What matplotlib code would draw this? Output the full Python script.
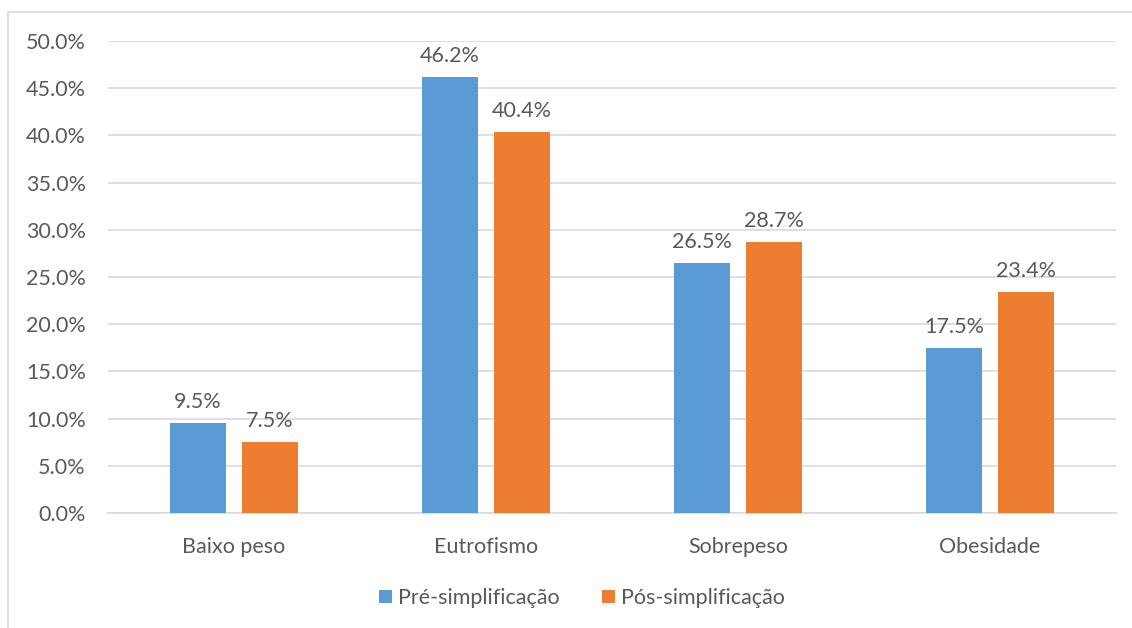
import matplotlib.pyplot as plt
import numpy as np
from matplotlib.patches import Rectangle
from matplotlib.ticker import FuncFormatter

categories = ['Baixo peso', 'Eutrofismo', 'Sobrepeso', 'Obesidade']
pre = [9.5, 46.2, 26.5, 17.5]
pos = [7.5, 40.4, 28.7, 23.4]
series_names = ['Pré-simplificação', 'Pós-simplificação']

plt.rcParams['font.family'] = ['Lato', 'DejaVu Sans']
txt = '#595959'
fs = 15.5

fig = plt.figure(figsize=(11.32, 6.28), dpi=100)
ax = fig.add_axes([108/1132, 1-513/628, 1008/1132, 472/628])

x = np.arange(len(categories))
w = 0.222
off = 0.143
b1 = ax.bar(x - off, pre, w, color='#5B9BD5', label=series_names[0], zorder=3)
b2 = ax.bar(x + off, pos, w, color='#ED7D31', label=series_names[1], zorder=3)

for bars, vals in [(b1, pre), (b2, pos)]:
    for r, v in zip(bars, vals):
        ax.annotate('%.1f%%' % v, (r.get_x() + r.get_width()/2, v), xytext=(0, 8),
                    textcoords='offset points', ha='center', va='bottom',
                    fontsize=fs, color=txt)

ax.set_xlim(-0.5, 3.5)
ax.set_ylim(0, 50)
ax.set_yticks(np.arange(0, 51, 5))
ax.yaxis.set_major_formatter(FuncFormatter(lambda v, p: '%.1f%%' % v))
ax.set_xticks(x)
ax.set_xticklabels(categories)
ax.tick_params(axis='both', length=0, labelsize=fs, labelcolor=txt)
ax.tick_params(axis='y', pad=16)
ax.tick_params(axis='x', pad=17)
ax.grid(axis='y', color='#D9D9D9', linewidth=1.2, zorder=0)
for s in ['top', 'right', 'left']:
    ax.spines[s].set_visible(False)
ax.spines['bottom'].set_color('#D9D9D9')
ax.spines['bottom'].set_linewidth(1.2)

leg = fig.legend(loc='center', bbox_to_anchor=(582/1132, 1-598/628), ncol=2, frameon=False,
                 fontsize=fs, handlelength=0.6, handleheight=0.6, handletextpad=0.25,
                 columnspacing=2.0, labelcolor=txt)

# outer chart border
fig.patches.append(Rectangle((8/1132, -0.1), 1.2, 1-12/628 + 0.1, transform=fig.transFigure,
                             fill=False, edgecolor='#D9D9D9', linewidth=1.2))

fig.savefig('out.png', dpi=100)
